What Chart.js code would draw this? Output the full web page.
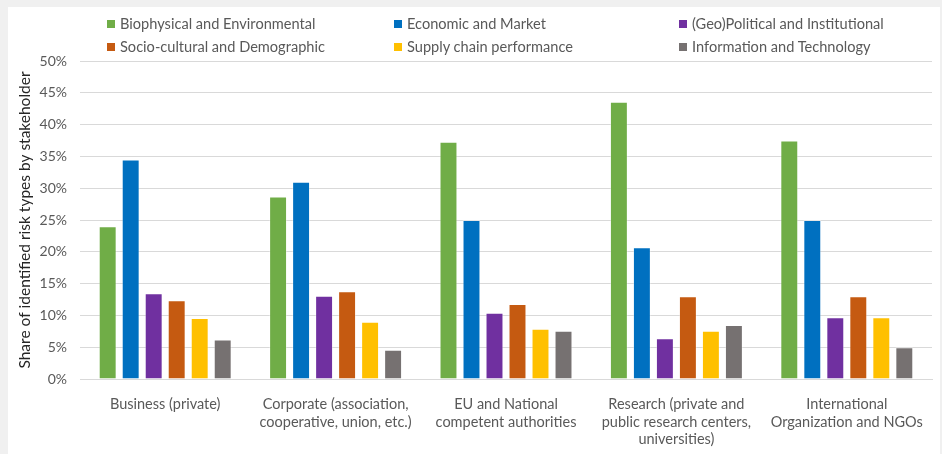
<!DOCTYPE html>
<html lang="en">
<head>
    <meta charset="UTF-8">
    <title>Risk types by stakeholder</title>
    <style>
        html, body {
            margin: 0;
            padding: 0;
            background-color: #f0f0f0;
        }
        body {
            width: 942px;
            height: 454px;
            position: relative;
            overflow: hidden;
            font-family: Lato, sans-serif;
        }
        .card {
            position: absolute;
            left: 8px;
            top: 7px;
            right: 2px;
            bottom: 0;
            background-color: white;
        }
        #barChart {
            position: absolute;
            left: 0;
            top: 0;
        }
        .legend-item {
            position: absolute;
            font-size: 14.6px;
            color: #595959;
            white-space: nowrap;
            line-height: 18px;
        }
        .legend-item span {
            display: inline-block;
            width: 8px;
            height: 8px;
            margin-right: 5px;
            vertical-align: 1px;
        }
    </style>
</head>
<body>
    <div class="card"></div>
    <canvas id="barChart" width="942" height="454"></canvas>
    <div id="legend"></div>

    <script src="https://cdn.jsdelivr.net/npm/chart.js"></script>
    <script>
        // stakeholder groups (x axis)
        const categories = [
            ['Business (private)'],
            ['Corporate (association,', 'cooperative, union, etc.)'],
            ['EU and National', 'competent authorities'],
            ['Research (private and', 'public research centers,', 'universities)'],
            ['International', 'Organization and NGOs']
        ];

        const seriesNames = [
            'Biophysical and Environmental',
            'Economic and Market',
            '(Geo)Political and Institutional',
            'Socio-cultural and Demographic',
            'Supply chain performance',
            'Information and Technology'
        ];
        const seriesColors = ['#70AD47', '#0070C0', '#7030A0', '#C55A11', '#FFC000', '#767171'];

        // share of identified risk types, in %
        const biophysical = [24.0, 28.7, 37.3, 43.6, 37.5];
        const economic = [34.5, 31.0, 25.0, 20.7, 25.0];
        const political = [13.5, 13.1, 10.4, 6.4, 9.7];
        const socioCultural = [12.4, 13.8, 11.8, 13.0, 13.0];
        const supplyChain = [9.6, 9.0, 7.9, 7.6, 9.7];
        const infoTech = [6.2, 4.6, 7.6, 8.5, 5.0];

        const seriesValues = [biophysical, economic, political, socioCultural, supplyChain, infoTech];

        const textGray = '#595959';
        const gridGray = '#d9d9d9';

        const datasets = seriesNames.map((name, i) => ({
            label: name,
            data: seriesValues[i],
            backgroundColor: seriesColors[i],
            borderColor: 'rgba(255,255,255,0.35)',
            borderWidth: 1,
            categoryPercentage: 0.81,
            barPercentage: 0.78
        }));

        new Chart(document.getElementById('barChart'), {
            type: 'bar',
            data: { labels: categories, datasets: datasets },
            options: {
                responsive: false,
                animation: false,
                layout: { padding: { top: 61, right: 10, left: 0, bottom: 0 } },
                plugins: {
                    legend: { display: false },
                    tooltip: { enabled: false }
                },
                scales: {
                    x: {
                        grid: { display: false },
                        border: { color: gridGray },
                        ticks: {
                            color: textGray,
                            font: { family: 'Lato', size: 14.5, lineHeight: 1.2 },
                            padding: 9,
                            maxRotation: 0,
                            autoSkip: false
                        },
                        afterFit: (s) => { s.height = 75; }
                    },
                    y: {
                        min: 0,
                        max: 50,
                        grid: { color: gridGray, drawTicks: false },
                        border: { display: false },
                        ticks: {
                            stepSize: 5,
                            color: textGray,
                            padding: 13,
                            font: { family: 'Lato', size: 14 },
                            callback: (v) => v + '%'
                        },
                        title: {
                            display: true,
                            text: 'Share of identified risk types by stakeholder',
                            color: '#262626',
                            font: { family: 'Lato', size: 15.5 },
                            padding: { top: 16, bottom: 0 }
                        },
                        afterFit: (s) => { s.width = 80; }
                    }
                }
            }
        });

        // legend: three columns, two rows
        const legendX = [107, 394, 679];
        const legendY = [15, 38];
        const legend = document.getElementById('legend');
        seriesNames.forEach((name, i) => {
            const item = document.createElement('div');
            item.className = 'legend-item';
            item.style.left = legendX[i % 3] + 'px';
            item.style.top = legendY[Math.floor(i / 3)] + 'px';
            item.innerHTML = `<span style="background:${seriesColors[i]}"></span>${name}`;
            legend.appendChild(item);
        });
    </script>
</body>
</html>
